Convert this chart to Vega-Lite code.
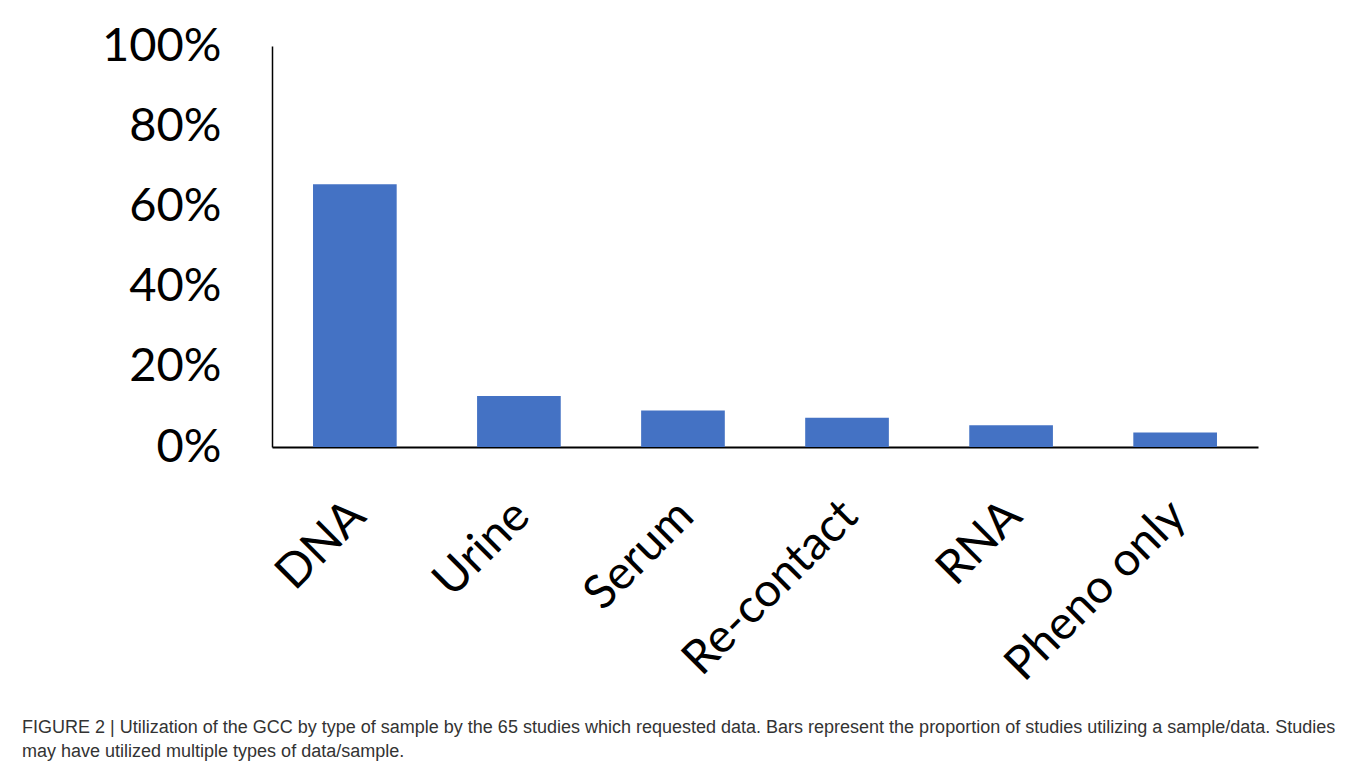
{
  "$schema": "https://vega.github.io/schema/vega-lite/v6.json",
  "width": 986,
  "height": 401,
  "autosize": {"type": "none"},
  "padding": {"left": 272, "top": 46, "right": 102, "bottom": 330},
  "background": "white",
  "data": {
    "values": [
      {"sample": "DNA", "share": 0.655},
      {"sample": "Urine", "share": 0.127},
      {"sample": "Serum", "share": 0.091},
      {"sample": "Re-contact", "share": 0.073},
      {"sample": "RNA", "share": 0.054},
      {"sample": "Pheno only", "share": 0.036}
    ]
  },
  "title": {
    "text": [
      "FIGURE 2 | Utilization of the GCC by type of sample by the 65 studies which requested data. Bars represent the proportion of studies utilizing a sample/data. Studies",
      "may have utilized multiple types of data/sample."
    ],
    "orient": "bottom",
    "anchor": "start",
    "frame": "group",
    "dx": -250,
    "offset": 30,
    "font": "Liberation Sans",
    "fontSize": 18,
    "fontWeight": "normal",
    "color": "#333333",
    "lineHeight": 24
  },
  "mark": {"type": "bar", "color": "#4472C4"},
  "encoding": {
    "x": {
      "field": "sample",
      "type": "nominal",
      "sort": null,
      "scale": {"paddingInner": 0.49, "paddingOuter": 0.25},
      "axis": {
        "title": null,
        "labelAngle": -45,
        "labelFont": "Lato",
        "labelFontSize": 47,
        "labelColor": "black",
        "labelPadding": 45,
        "labelOffset": -13,
        "ticks": false,
        "domainColor": "black",
        "domainWidth": 2,
        "labelLimit": 0
      }
    },
    "y": {
      "field": "share",
      "type": "quantitative",
      "scale": {"domain": [0, 1]},
      "axis": {
        "title": null,
        "format": ".0%",
        "values": [0, 0.2, 0.4, 0.6, 0.8, 1],
        "grid": false,
        "ticks": false,
        "labelFont": "Lato",
        "labelFontSize": 47,
        "labelColor": "black",
        "labelPadding": 51,
        "domainColor": "black",
        "domainWidth": 1.5
      }
    }
  },
  "config": {"view": {"stroke": null}}
}
